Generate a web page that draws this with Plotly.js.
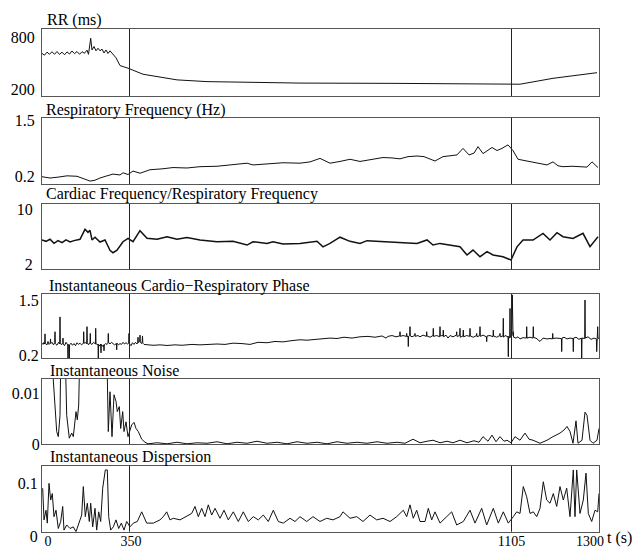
<!DOCTYPE html>
<html><head><meta charset="utf-8">
<script src="https://cdn.plot.ly/plotly-3.0.1.min.js"></script>
<style>html,body{margin:0;padding:0;background:#fff}#chart{width:636px;height:549px}</style>
</head><body><div id="chart"></div>
<script>
// Sample positions (plot index units) and values
const rrT = [0,2.5,5,7.5,10,12.5,15,17.5,20,22.5,25,27.5,30,32.5,35,37.5,40,42.5,45,46.5,48.7,50,52,54,56,58,60,62,64,66,68,70,74,78,86,101,118,135,165,200,258,350,420,465,478,511,555];
const rrVal = [610,590,625,600,630,600,632,598,625,595,628,603,638,608,632,600,630,612,648,600,785,650,690,640,670,640,660,615,650,610,640,612,560,470,440,370,335,305,285,278,268,265,258,248,255,323,388];

const respT = [0,8,16,25,35,42,48,53,58,65,71,78,81,86,91,98,108,120,131,145,158,175,191,205,211,225,241,258,268,278,288,298,308,318,330,341,350,358,366,375,382,388,393,401,408,415,421,427,432,436,441,446,450,455,460,466,471,476,483,491,497,505,511,516,521,530,538,545,550,556];
const respVal = [0.2,0.17,0.19,0.22,0.21,0.15,0.1,0.12,0.17,0.22,0.26,0.24,0.29,0.25,0.33,0.28,0.36,0.38,0.41,0.40,0.43,0.44,0.47,0.51,0.47,0.50,0.52,0.51,0.54,0.62,0.51,0.55,0.6,0.55,0.6,0.64,0.63,0.61,0.66,0.675,0.66,0.6,0.56,0.66,0.68,0.7,0.85,0.7,0.74,0.89,0.73,0.8,0.87,0.8,0.85,0.93,0.8,0.6,0.57,0.54,0.5,0.47,0.54,0.45,0.43,0.44,0.43,0.42,0.54,0.41];

const ratioT = [0,4,8,12,16,20,24,28,32,38,43,46,48,50,53,56,58,63,68,71,75,81,86,91,98,105,115,125,135,145,158,175,191,205,211,225,231,241,258,275,281,288,298,308,318,325,341,358,375,385,391,398,408,418,425,431,438,445,451,461,469,475,481,491,501,508,515,521,531,541,548,556];
const ratioVal = [5.5,5.3,5.6,5.0,5.4,5.1,5.5,5.2,5.4,5.6,7.05,6.6,6.9,5.5,5.9,5.5,5.2,5.5,4.0,3.64,4.0,5.24,5.74,5.24,6.85,5.73,5.6,5.97,5.6,5.85,5.49,5.24,5.3,4.76,5.24,5.0,5.24,4.9,5.0,5.3,4.5,5.0,5.9,5.3,5.0,5.4,5.3,5.1,5.0,5.5,4.76,5.0,4.76,4.52,3.31,4.03,3.06,3.79,3.31,3.06,2.58,4.5,5.49,5.49,6.46,5.49,6.55,5.97,5.73,6.46,4.52,5.97];

// [sample, phase] pairs: baseline with narrow spikes
const phasePairs = [[0,.48],[1,.45],[2,.5],[2.7,.46],[3,.7],[3.3,.47],[5,.44],[6,.52],[7,.45],[8.2,.48],[8.5,.58],[8.8,.47],[10,.5],[11.5,.44],[12.7,.49],[13,.75],[13.3,.47],[15,.43],[16.5,.5],[17.7,.46],[18,1.1],[18.3,.48],[19.5,.44],[20.7,.49],[21,.6],[21.3,.46],[22.5,.42],[24,.5],[25.7,.44],[26,.12],[26.3,.45],[27,.42],[27.3,.12],[27.6,.44],[29,.48],[30.5,.43],[32,.47],[33.5,.42],[35,.49],[36.5,.45],[38,.48],[39.5,.44],[41.4,.48],[41.7,.75],[42,.47],[43.2,.5],[44.7,.46],[45,.87],[45.3,.49],[46.5,.44],[48,.5],[48.3,.71],[48.6,.47],[50,.45],[51.5,.5],[53.4,.46],[53.7,.83],[54,.48],[55.2,.44],[56,.46],[56.3,.12],[56.6,.45],[58,.41],[58.7,.46],[59,.25],[59.3,.45],[61,.4],[61.7,.44],[62,.3],[62.3,.44],[63.5,.47],[65,.45],[66,.48],[66.3,.71],[66.6,.5],[68,.46],[69.5,.5],[71,.47],[72.5,.44],[74.4,.47],[74.7,.32],[75,.48],[76.5,.44],[78,.47],[79.5,.45],[81,.5],[82.5,.46],[84,.49],[85.5,.46],[86.7,.48],[87,.71],[87.3,.47],[89,.42],[90.5,.49],[92,.45],[93.5,.5],[95,.46],[95.7,.5],[96,.62],[96.3,.49],[97.7,.52],[98,.67],[98.3,.5],[99.5,.47],[100.2,.52],[100.5,.65],[100.8,.48],[102,.45],[104,.44],
[108,.436],[112,.43],[118,.44],[125,.425],[133,.44],[140,.43],[150,.45],[158,.44],[166,.45],[175,.46],[183,.45],[191,.48],[200,.47],[208,.45],[216,.5],[225,.49],[233,.52],[241,.51],[250,.54],[258,.56],[265,.55],[272,.57],[280,.58],[288,.6],[295,.59],[302,.62],[310,.6],[318,.63],[326,.64],[333,.62],[340,.65],[344,.6],[346,.64],[350,.66],[354,.63],[357.7,.65],[358,.75],[358.3,.64],[361,.66],[364.4,.64],[364.7,.71],[365,.63],[366,.65],[366.3,.4],[366.6,.64],[367.7,.66],[368,.87],[368.3,.65],[370,.63],[372.7,.66],[373,.71],[373.3,.64],[376,.66],[378,.63],[381,.67],[384.4,.64],[384.7,.75],[385,.65],[388,.62],[391,.66],[391.3,.83],[391.6,.64],[394.7,.66],[397.7,.63],[398,.87],[398.3,.65],[401,.66],[401.3,.79],[401.6,.63],[404,.67],[406,.6],[408,.66],[411,.63],[414.4,.67],[414.7,.75],[415,.64],[417.7,.66],[418,.83],[418.3,.62],[421,.65],[421.3,.79],[421.6,.63],[424.7,.66],[427.7,.64],[428,.83],[428.3,.65],[431.3,.62],[434.4,.66],[434.7,.71],[435,.63],[437.7,.66],[438,.87],[438.3,.64],[441,.67],[444.4,.63],[444.7,.515],[445,.65],[448,.66],[451,.63],[451.3,.79],[451.6,.65],[454.7,.62],[457.7,.66],[458,.71],[458.3,.63],[461,.65],[461.3,1.067],[461.6,.62],[463,.66],[466,.63],[466.3,.16],[466.6,.64],[467.7,.6],[468,1.3],[468.3,.62],[469.5,.64],[470.3,1.62],[471,.66],[471.3,.75],[471.6,.62],[474,.6],[476,.63],[478,.58],[481,.61],[484.4,.6],[484.7,.87],[485,.6],[488,.62],[491,.6],[491.3,.87],[491.6,.61],[494,.6],[498,.52],[501,.6],[505,.58],[508,.59],[510.4,.58],[510.7,.71],[511,.59],[514,.6],[518,.58],[519.4,.59],[519.7,.28],[520,.6],[522,.62],[525,.58],[528,.6],[531,.59],[531.3,.28],[531.6,.6],[534,.62],[537,.57],[539.4,.6],[539.7,.12],[540,.6],[542.7,.59],[543,1.5],[543.3,.6],[546,.63],[549,.57],[552,.6],[554.4,.58],[554.7,.28],[555,.6],[555.4,.62],[555.7,.87],[556,.6],[557,.59]];

const noiseT = [0,10.7,11.3,14.7,16.3,18,19,23,24.7,27.3,29.7,31.3,34,35.3,36.7,38,64.7,65.3,66.3,68,70,72,74,75.3,77.3,78.7,80.7,82,84,86,87.3,89.7,92,94,96.3,99.7,103,106,115,125,135,145,155,165,175,185,195,205,215,225,235,245,255,265,275,285,295,305,315,325,335,345,355,363,371,378,385,391,398,405,411,418,425,432,437,441,446,450,454,458,462,465,469,473,478,483,487,491,498,505,511,518,522,525,528,531,534,536,540,543,545,548,551,555,557];
const noiseVal = [0.02,0.02,0.0126,0.0025,0.0015,0.0057,0.02,0.02,0.0057,0.0012,0.0022,0.0015,0.0064,0.0048,0.0077,0.02,0.02,0.009,0.0025,0.0103,0.0015,0.0097,0.0084,0.0064,0.0074,0.0031,0.0064,0.0025,0.0044,0.0015,0.0025,0.0038,0.0043,0.0031,0.0025,0.001,0.0004,0.0001,0.0003,0.0001,0.0004,0.0001,0.0003,0.0002,0.0005,0.0001,0.0004,0.0002,0.0006,0.0002,0.0004,0.0001,0.0005,0.0002,0.0004,0.0001,0.0005,0.0002,0.0004,0.0002,0.0005,0.0002,0.0004,0.0002,0.001,0.0003,0.0006,0.0008,0.0003,0.0006,0.0003,0.0008,0.0003,0.0007,0.0004,0.0015,0.0006,0.0018,0.0005,0.0015,0.0006,0.0008,0.0003,0.0015,0.0008,0.0022,0.001,0.0008,0.0002,0.0008,0.0015,0.0022,0.0028,0.0035,0.0025,0.0002,0.0046,0.0002,0.0008,0.0063,0.0057,0.0008,0.0002,0.0008,0.0031];

const dispT = [0.7,2,4,5.3,7,8.7,10.3,12,14,16.3,18.7,20.7,22,24.7,28,31.3,34,37.3,39.7,41.3,43.3,45.3,47.3,48.7,50.7,53,54.7,56.7,58.7,60.7,63.3,65.3,66.7,68.7,71.3,74,76.7,79.3,82,84.7,88,91.3,95.3,99.7,104.7,111.3,118,121.3,124.7,128,131.3,138,144.7,149.7,153,156.3,159.7,163,166.3,169.7,173,178,182,186.3,191.3,196.3,201.3,206.3,211.3,216.3,221.3,226.3,231.3,236.3,241.3,248,253,258,264.7,271,278,284.7,291,298,301,308,314.7,321,328,334.7,341,348,354.7,361.3,364.7,368,371.3,374.7,378,383,386.3,389.7,393,398,404.7,409.7,414.7,421.3,428,433,439.7,444.7,451.3,456.3,461.3,466.3,471.3,474.7,478,481.3,484.7,488,491.3,494.7,498,501.3,504.7,508,511.3,514.7,518,521.3,524.7,528,531.3,533,534.7,538,541.3,544,546.3,549.7,553,555.7,557];
const dispVal = [0.081,0.022,0.040,0.016,0.090,0.059,0.071,0.028,0.040,0.006,0.019,0.047,0.003,0.0125,0.006,0.009,0,0.019,0.031,0.084,0.028,0.053,0.019,0.053,0.009,0.0435,0.003,0.037,0.019,0.081,0.115,0.115,0.028,0.003,0.009,0.022,0.006,0.016,0.003,0.019,0.009,0.016,0.019,0.037,0.016,0.016,0.022,0.028,0.037,0.022,0.025,0.022,0.028,0.034,0.047,0.028,0.0435,0.028,0.050,0.031,0.0435,0.025,0.040,0.022,0.037,0.019,0.037,0.019,0.028,0.022,0.031,0.019,0.040,0.019,0.016,0.025,0.019,0.028,0.019,0.028,0.019,0.025,0.022,0.028,0.037,0.025,0.028,0.019,0.031,0.022,0.025,0.019,0.028,0.040,0.028,0.050,0.025,0.040,0.019,0.019,0.0435,0.022,0.037,0.016,0.028,0.037,0.0125,0.019,0.040,0.016,0.0435,0.0125,0.0435,0.016,0.037,0.016,0.028,0.037,0.034,0.084,0.065,0.034,0.037,0.028,0.0435,0.093,0.059,0.053,0.071,0.047,0.084,0.059,0.081,0.028,0.115,0.028,0.115,0.034,0.059,0.109,0.034,0.019,0.040,0.037,0.071];

const panelTitles = ['RR (ms)','Respiratory Frequency (Hz)','Cardiac Frequency/Respiratory Frequency','Instantaneous Cardio\u2212Respiratory Phase','Instantaneous Noise','Instantaneous Dispersion'];
const yTickVals = [[200,800],[0.2,1.5],[2,10],[0.2,1.5],[0,0.01],[0,0.1]];
const yTickText = [['200','800'],['0.2','1.5'],['2','10'],['0.2','1.5'],['0','0.01'],['0','0.1']];
const timeTickText = ['0','350','1105','1300'];

// ---- layout (positions / styles) ----
const W = 636, H = 549;
const FONT = 'Liberation Serif, Times New Roman, serif';
const phaseT = phasePairs.map(p=>p[0]), phaseVal = phasePairs.map(p=>p[1]);
const series = [[rrT,rrVal],[respT,respVal],[ratioT,ratioVal],[phaseT,phaseVal],[noiseT,noiseVal],[dispT,dispVal]];
const boxes = [[29,96],[117.7,184],[204,269.3],[294,358.3],[379,444.3],[465.7,531.7]];
const yRanges = [[119,892],[0.033,1.553],[1.23,10.73],[0.122,1.642],[0,0.0128],[0,0.1229]];
const labelShift = [0,0,0,0,6.6,5];
const labelStand = [3,3,5,-1,-2,0];
const titlePos = [[45,20],[44,110],[44,194],[47,286],[48,370.5],[48,457]];
const lineW = [1,1,1.5,1,1,1];
const eventPos = [87.5, 469.5];
const timeTickPos = [6, 89, 469.5, 548];

const traces = [];
const layout = {
  width: W, height: H, margin: {l:0,r:0,t:0,b:0},
  paper_bgcolor:'#fff', plot_bgcolor:'#fff', showlegend:false,
  font:{family:FONT, color:'#000', size:16},
  shapes:[], annotations:[]
};
const xd = [42/W, 599/W];
series.forEach((s,i)=>{
  const k = i+1, sx = k===1?'':k;
  traces.push({x:s[0], y:s[1], xaxis:'x'+sx, yaxis:'y'+sx, type:'scatter', mode:'lines',
    line:{color:'#111', width:lineW[i]}, hoverinfo:'skip'});
  const [top,bot] = boxes[i];
  layout['xaxis'+sx] = {domain:xd, range:[0,557], anchor:'y'+sx, showgrid:false, zeroline:false,
    showline:true, mirror:true, linecolor:'#555', linewidth:1, ticks:'',
    showticklabels: k===6, tickvals: timeTickPos, ticktext: timeTickText,
    tickfont:{family:FONT,size:14,color:'#000'}, ticklabelstandoff:-4, fixedrange:true};
  layout['yaxis'+sx] = {domain:[1-bot/H, 1-top/H], range:yRanges[i], anchor:'x'+sx, showgrid:false, zeroline:false,
    showline:true, mirror:true, linecolor:'#555', linewidth:1, ticks:'',
    tickvals:yTickVals[i], ticktext:yTickText[i], tickfont:{family:FONT,size:16,color:'#000'},
    ticklabelshift:labelShift[i], ticklabelstandoff:labelStand[i], fixedrange:true};
  eventPos.forEach(p=>{
    layout.shapes.push({type:'line', xref:'x'+sx, yref:'y'+sx+' domain', x0:p, x1:p, y0:0, y1:1,
      line:{color:'#222', width:1}});
  });
  layout.annotations.push({xref:'paper', yref:'paper', x:titlePos[i][0]/W, y:1-titlePos[i][1]/H,
    xanchor:'left', yanchor:'middle', showarrow:false, text:panelTitles[i],
    font:{family:FONT, size:16, color:'#000'}});
});
layout.annotations.push({xref:'paper', yref:'paper', x:619/W, y:1-538/H, xanchor:'center', yanchor:'middle',
  showarrow:false, text:'t (s)', font:{family:FONT,size:16,color:'#000'}});

Plotly.newPlot('chart', traces, layout, {staticPlot:true, displayModeBar:false});
</script></body></html>
